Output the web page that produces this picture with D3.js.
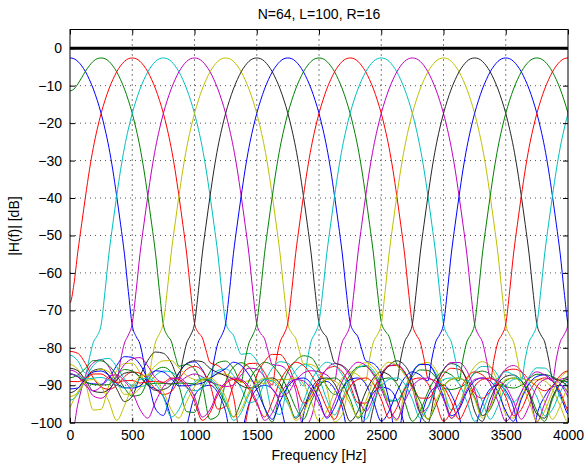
<!DOCTYPE html>
<html>
<head>
<meta charset="utf-8">
<script src="https://cdn.jsdelivr.net/npm/d3@7"></script>
<style>
  html, body { margin: 0; padding: 0; background: #fff; }
  svg { display: block; font-family: "Liberation Sans", Arial, sans-serif; }
</style>
</head>
<body>
<div id="chart"></div>
<script>
// Filter bank: channel centre frequencies (Hz), 250 Hz apart
const channelCenters = [0, 250, 500, 750, 1000, 1250, 1500, 1750, 2000, 2250,
                        2500, 2750, 3000, 3250, 3500, 3750, 4000, 4250, 4500, 4750];
// MATLAB default line colour order
const lineColors = ['#0000ff', '#008000', '#ff0000', '#00bfbf', '#bf00bf', '#bfbf00', '#262626'];

// Prototype main lobe: offset from centre (Hz) -> dB
const mainOffsets = [0, 31.25, 62.5, 93.75, 125, 156.25, 187.5, 218.75, 250, 281.25,
                     312.5, 343.75, 375, 406.25, 437.5, 468.75, 500, 531.25, 562.5, 593.75];
const mainDb = [-2.6, -2.8, -3.5, -4.7, -6.3, -8.4, -10.9, -13.9, -17.4, -21.6,
                -26.5, -32.5, -39.5, -47, -55, -65, -74, -77, -79, -84];

// Sidelobes, every 62.5 Hz from 625 Hz offset (above and below the centre)
const sideStart = 625, sideStep = 62.5;
const sideUpperDb = [-90, -91, -93, -99, -110, -101, -93, -90.5, -90, -92,
                     -97, -107, -103, -95, -91, -90, -91, -95, -104, -112,
                     -98, -92, -89.5, -89, -91, -96, -106, -109, -97, -92,
                     -90.5, -91, -94, -101, -113, -100, -93, -90.5, -90, -92.5,
                     -98, -108, -102, -95, -91, -90, -91.5, -96, -105, -110,
                     -98, -93, -90.5, -90, -92, -97, -107, -103, -95, -91,
                     -90, -91, -95, -103, -111, -99, -93];
const sideLowerDb = [-91, -89, -88, -90, -95, -104, -112, -99, -92, -90,
                     -90.5, -94, -102, -109, -98, -92, -90, -90.5, -93, -99,
                     -110, -102, -94, -89, -86, -85, -87, -91, -99, -108,
                     -100, -94, -91, -90.5, -92, -96, -105, -111, -99, -93,
                     -90.5, -90, -91.5, -95, -103, -108, -97, -92, -90, -90.5,
                     -93, -99, -109, -103, -95, -91, -89, -89.5, -93, -101,
                     -111, -99, -93, -90.5, -91, -95, -102];

// Summed response of the bank (thick line)
const totalFreq = [0, 4000];
const totalDb = [0, 0];

const xTicks = [0, 500, 1000, 1500, 2000, 2500, 3000, 3500, 4000];
const yTicks = [-100, -90, -80, -70, -60, -50, -40, -30, -20, -10, 0];

const width = 586, height = 468;
const margin = {top: 29.5, right: 18, bottom: 45.3, left: 70};
const innerWidth = width - margin.left - margin.right;
const innerHeight = height - margin.top - margin.bottom;

const svg = d3.select('#chart').append('svg')
    .attr('width', width)
    .attr('height', height);

const g = svg.append('g')
    .attr('transform', `translate(${margin.left},${margin.top})`);

const xScale = d3.scaleLinear().domain([0, 4000]).range([0, innerWidth]);
const yScale = d3.scaleLinear().domain([-100, 5]).range([innerHeight, 0]);

// Full prototype tables (upper and lower side)
const sideOffsets = sideUpperDb.map((_, i) => sideStart + i * sideStep);
const upperOff = mainOffsets.concat(sideOffsets);
const upperDb = mainDb.concat(sideUpperDb);
const lowerDb = mainDb.concat(sideLowerDb);
const lowerAt = d3.scaleLinear().domain(upperOff).range(lowerDb).clamp(true);

const toAmp = db => Math.pow(10, db / 20);

function channelPoints(fc) {
    const pts = [];
    // lower side, from far to near
    for (let i = upperOff.length - 1; i >= 1; i--) {
        pts.push({f: fc - upperOff[i], db: lowerDb[i]});
    }
    for (let i = 0; i < upperOff.length; i++) {
        pts.push({f: fc + upperOff[i], db: upperDb[i]});
    }
    return pts
        .filter(p => p.f >= -70 && p.f <= 4070)
        .map(p => {
            if (fc === 0) return p;
            // image of the real filter at -fc
            const img = lowerAt(Math.abs(p.f + fc));
            return {f: p.f, db: 20 * Math.log10(toAmp(p.db) + toAmp(img))};
        });
}

// Clip
g.append('clipPath').attr('id', 'plot-clip')
    .append('rect')
    .attr('width', innerWidth)
    .attr('height', innerHeight);

// Grid lines (dotted)
g.selectAll('.xgrid')
    .data(xTicks.slice(1, -1))
    .enter().append('line')
    .attr('class', 'xgrid')
    .attr('x1', d => xScale(d)).attr('x2', d => xScale(d))
    .attr('y1', 0).attr('y2', innerHeight)
    .attr('stroke', '#000')
    .attr('stroke-width', 1)
    .attr('stroke-dasharray', '1,4');

g.selectAll('.ygrid')
    .data(yTicks.slice(1))
    .enter().append('line')
    .attr('class', 'ygrid')
    .attr('x1', 0).attr('x2', innerWidth)
    .attr('y1', d => yScale(d)).attr('y2', d => yScale(d))
    .attr('stroke', '#555')
    .attr('stroke-width', 1)
    .attr('stroke-dasharray', '1,4');

const line = d3.line()
    .x(d => xScale(d.f))
    .y(d => yScale(d.db))
    .curve(d3.curveMonotoneX);

const curves = g.append('g').attr('clip-path', 'url(#plot-clip)');

curves.selectAll('.channel')
    .data(channelCenters)
    .enter().append('path')
    .attr('class', 'channel')
    .attr('d', fc => line(channelPoints(fc)))
    .attr('fill', 'none')
    .attr('stroke', (fc, i) => lineColors[i % lineColors.length])
    .attr('stroke-width', 1);

curves.append('path')
    .datum(totalFreq.map((f, i) => ({f: f, db: totalDb[i]})))
    .attr('d', d3.line().x(d => xScale(d.f)).y(d => yScale(d.db)))
    .attr('fill', 'none')
    .attr('stroke', '#000')
    .attr('stroke-width', 3);

// Axes, MATLAB style: ticks inside on all four sides
const tickLen = 5;
const xAxis = g.append('g')
    .attr('transform', `translate(0,${innerHeight})`)
    .call(d3.axisBottom(xScale).tickValues(xTicks).tickSize(-tickLen).tickPadding(6)
        .tickFormat(d3.format('d')));
const topAxis = g.append('g')
    .call(d3.axisTop(xScale).tickValues(xTicks).tickSize(-tickLen));
g.append('g')
    .call(d3.axisLeft(yScale).tickValues(yTicks).tickSize(-tickLen).tickPadding(8)
        .tickFormat(d => d3.format('d')(d).replace('-', '\u2212')));
const rightAxis = g.append('g')
    .attr('transform', `translate(${innerWidth},0)`)
    .call(d3.axisRight(yScale).tickValues(yTicks).tickSize(-tickLen));

// only tick marks on the top and right sides
topAxis.selectAll('.tick text').remove();
rightAxis.selectAll('.tick text').remove();

g.selectAll('.domain').remove();
g.selectAll('.tick line').attr('stroke', '#000');
g.selectAll('.tick text')
    .attr('fill', '#000')
    .attr('font-size', '14px')
    .attr('font-family', '"Liberation Sans", Arial, sans-serif');
xAxis.selectAll('.tick text')
    .attr('dy', null)
    .attr('y', 17);

// Frame
g.append('rect')
    .attr('width', innerWidth)
    .attr('height', innerHeight)
    .attr('fill', 'none')
    .attr('stroke', '#000')
    .attr('stroke-width', 1);

// Labels
svg.append('text')
    .attr('x', margin.left + innerWidth / 2)
    .attr('y', 19)
    .attr('text-anchor', 'middle')
    .attr('font-size', '14px')
    .text('N=64, L=100, R=16');

svg.append('text')
    .attr('x', margin.left + innerWidth / 2)
    .attr('y', 460)
    .attr('text-anchor', 'middle')
    .attr('font-size', '14px')
    .text('Frequency [Hz]');

svg.append('text')
    .attr('transform', `translate(19,${margin.top + innerHeight / 2}) rotate(-90)`)
    .attr('text-anchor', 'middle')
    .attr('font-size', '14px')
    .text('|H(f)| [dB]');
</script>
</body>
</html>
